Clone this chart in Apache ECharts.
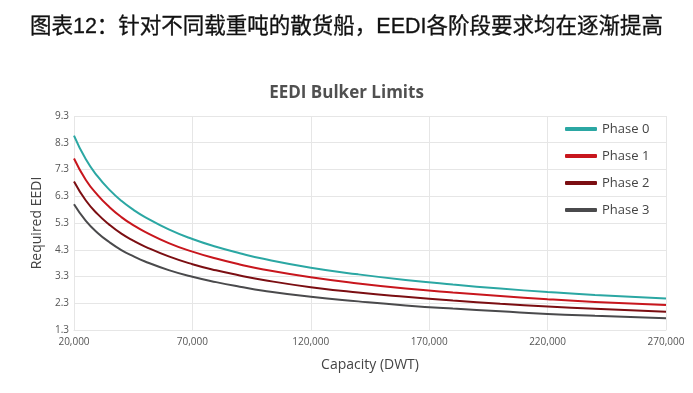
<!DOCTYPE html>
<html><head><meta charset="utf-8">
<script src="https://cdn.jsdelivr.net/npm/echarts@6/dist/echarts.min.js"></script>
<style>html,body{margin:0;padding:0;background:#fff}#c{width:693px;height:393px}</style>
</head><body><div id="c"></div>
<script>
const dwt = [20000,25000,30000,35000,40000,45000,50000,60000,70000,80000,90000,100000,120000,140000,160000,180000,200000,220000,240000,270000];
const phase0 = [8.57,7.68,7.04,6.54,6.13,5.80,5.52,5.06,4.70,4.41,4.17,3.96,3.63,3.38,3.17,3.00,2.85,2.72,2.61,2.48];
const phase1 = [7.71,6.91,6.34,5.89,5.52,5.22,4.97,4.55,4.23,3.97,3.75,3.56,3.27,3.04,2.85,2.70,2.57,2.45,2.35,2.23];
const phase2 = [6.85,6.14,5.63,5.23,4.90,4.64,4.42,4.05,3.76,3.53,3.34,3.17,2.90,2.70,2.54,2.40,2.28,2.18,2.09,1.98];
const phase3 = [6.00,5.38,4.93,4.58,4.29,4.06,3.86,3.54,3.29,3.09,2.92,2.77,2.54,2.37,2.22,2.10,2.00,1.90,1.83,1.74];
const seriesNames = ['Phase 0','Phase 1','Phase 2','Phase 3'];
const seriesColors = ['#2ba7a3','#c8161d','#7b0e12','#4a4a4c'];
const seriesValues = [phase0, phase1, phase2, phase3];

const F = '"Open Sans", Lato, sans-serif';
const chart = echarts.init(document.getElementById('c'));
chart.setOption({
  animation: false,
  backgroundColor: '#fff',
  title: [
    {text: '图表12：针对不同载重吨的散货船，EEDI各阶段要求均在逐渐提高', left: 'center', top: 11,
     textStyle: {fontFamily: 'Liberation Sans, "Noto Sans CJK SC"', fontSize: 21.5, fontWeight: 'normal', color: '#111',
       textBorderColor: '#111', textBorderWidth: 0.3}},
    {text: 'EEDI Bulker Limits', left: 'center', top: 80,
     textStyle: {fontFamily: F, fontSize: 17, fontWeight: 'bold', color: '#505050'}}
  ],
  legend: {
    orient: 'vertical', left: 560, top: 115, itemGap: 9,
    itemWidth: 32, itemHeight: 4, icon: 'roundRect',
    textStyle: {fontFamily: F, fontSize: 13, color: '#444', lineHeight: 18},
    data: seriesNames
  },
  grid: {left: 74, right: 27, top: 116, bottom: 63},
  xAxis: {
    type: 'value', min: 20000, max: 270000, interval: 50000,
    name: 'Capacity (DWT)', nameLocation: 'middle', nameGap: 28,
    nameTextStyle: {fontFamily: F, fontSize: 14, color: '#444'},
    axisLine: {show: true, lineStyle: {color: '#e6e6e6'}},
    axisTick: {show: false},
    axisLabel: {margin: 7, fontFamily: F, fontSize: 10, color: '#555',
      formatter: v => v.toLocaleString('en-US')},
    splitLine: {show: true, lineStyle: {color: '#e6e6e6'}}
  },
  yAxis: {
    type: 'value', min: 1.3, max: 9.3, interval: 1,
    name: 'Required EEDI', nameLocation: 'middle', nameGap: 29,
    nameTextStyle: {fontFamily: F, fontSize: 14, color: '#444'},
    axisLine: {show: false}, axisTick: {show: false},
    axisLabel: {margin: 5, fontFamily: F, fontSize: 10, color: '#555',
      formatter: v => v.toFixed(1)},
    splitLine: {show: true, lineStyle: {color: '#e6e6e6'}}
  },
  series: seriesNames.map((n, i) => ({
    name: n, type: 'line', smooth: true, showSymbol: false, symbol: 'none',
    color: seriesColors[i],
    lineStyle: {width: 2, color: seriesColors[i]},
    data: dwt.map((x, j) => [x, seriesValues[i][j]])
  }))
});
</script>
</body></html>
